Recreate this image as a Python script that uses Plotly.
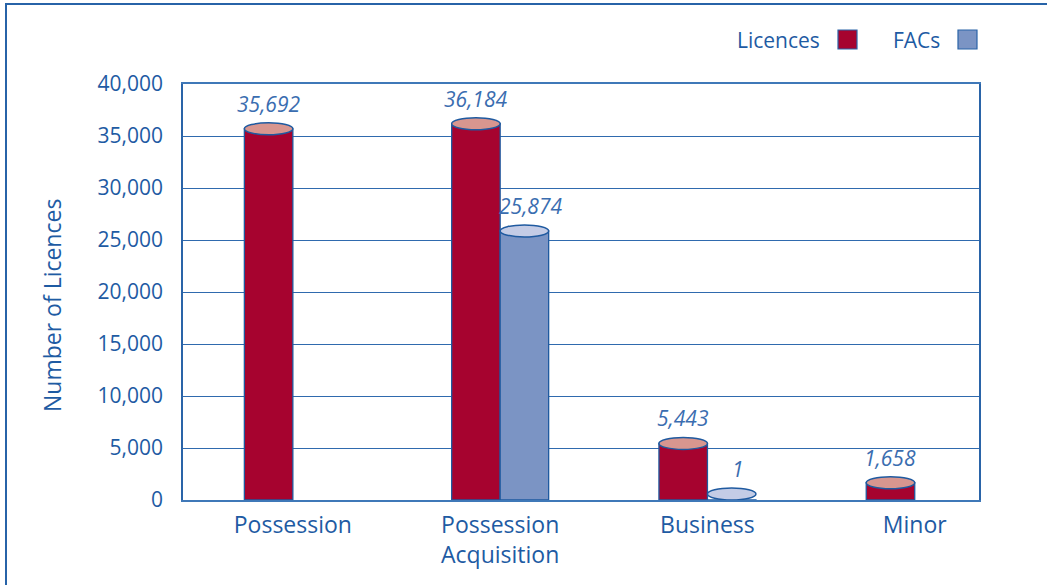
import plotly.graph_objects as go

categories = ["Possession", "Possession<br>Acquisition", "Business", "Minor"]
licences = [35692, 36184, 5443, 1658]
facs = [None, 25874, 1, None]
y_ticks = [0, 5000, 10000, 15000, 20000, 25000, 30000, 35000, 40000]

RED = "#A6032F"
RED_TOP = "#D8968F"
BLUE = "#7B94C4"
BLUE_TOP = "#C4CCE6"
EDGE = "#1F5AA0"
TXT = "#1E5BA3"
LBL = "#3A6DB0"
FONT = "Open Sans"

W, H = 1047, 585
L, R, T, B = 183, 68, 84, 85
BW = 0.234  # bar width in category units
YMAX = 40000
ell_half = 6 * YMAX / (H - T - B)  # ellipse half height (6 px) in data units

fig = go.Figure()
fig.add_trace(go.Bar(x=list(range(4)), y=licences, width=BW, offset=-BW,
                     marker=dict(color=RED, line=dict(color=EDGE, width=1.3)),
                     name="Licences", showlegend=False))
fig.add_trace(go.Bar(x=list(range(4)), y=facs, width=BW, offset=0,
                     marker=dict(color=BLUE, line=dict(color=EDGE, width=1.3)),
                     name="FACs", showlegend=False))

shapes = []
annotations = []
for series, off, top in ((licences, -BW, RED_TOP), (facs, 0, BLUE_TOP)):
    for i, v in enumerate(series):
        if v is None:
            continue
        c = max(v, ell_half)
        shapes.append(dict(type="circle", xref="x", yref="y",
                           x0=i + off, x1=i + off + BW,
                           y0=c - ell_half, y1=c + ell_half,
                           fillcolor=top, line=dict(color=EDGE, width=1.5),
                           layer="above"))
        annotations.append(dict(x=i + off + BW / 2, y=c, xref="x", yref="y",
                                text=f"{v:,}", showarrow=False,
                                yanchor="bottom", yshift=9,
                                xshift=6 if off == 0 else 0,
                                font=dict(family=FONT, size=21, color=LBL,
                                          style="italic")))

def px_x(p):
    return (p - L) / (W - L - R)

def px_y(p):
    return (H - B - p) / (H - T - B)

# outer frame
shapes.append(dict(type="rect", xref="paper", yref="paper",
                   x0=px_x(6), x1=px_x(1080), y0=px_y(620), y1=px_y(4),
                   line=dict(color="#2763A8", width=2), fillcolor="rgba(0,0,0,0)"))

# legend (text then square)
for label, col, tx, sx in (("Licences", RED, 822, 838), ("FACs", BLUE, 942, 958)):
    annotations.append(dict(x=px_x(tx), y=px_y(40), xref="paper", yref="paper",
                            text=label, showarrow=False, xanchor="right",
                            yanchor="middle",
                            font=dict(family=FONT, size=21, color=TXT)))
    shapes.append(dict(type="rect", xref="paper", yref="paper",
                       x0=px_x(sx), x1=px_x(sx + 19), y0=px_y(49), y1=px_y(30),
                       fillcolor=col, line=dict(color="#2A64A8", width=1.2)))

annotations.append(dict(x=px_x(52), y=px_y(306), xref="paper", yref="paper",
                        text="Number of Licences", textangle=-90,
                        showarrow=False, xanchor="center", yanchor="middle",
                        font=dict(family=FONT, size=23, color=TXT)))

fig.update_layout(
    width=W, height=H,
    margin=dict(l=L, r=R, t=T, b=B, pad=0),
    paper_bgcolor="white", plot_bgcolor="white",
    barmode="overlay",
    shapes=shapes, annotations=annotations,
    xaxis=dict(tickmode="array", tickvals=list(range(4)), ticktext=categories,
               range=[-0.53, 3.31], showgrid=False, zeroline=False,
               showline=True, mirror=True, linecolor="#3F78B8", linewidth=1.5,
               ticks="", ticklabelstandoff=4,
               tickfont=dict(family=FONT, size=23, color=TXT)),
    yaxis=dict(range=[0, YMAX], tickvals=y_ticks, tickformat=",d",
               showgrid=True, gridcolor="#2F6AAE", gridwidth=1,
               zeroline=False, showline=True, mirror=True,
               linecolor="#2A64A8", linewidth=1.5, ticks="",
               ticklabelstandoff=14,
               tickfont=dict(family=FONT, size=21, color=TXT)),
    showlegend=False,
)

fig.write_html("out.html")
